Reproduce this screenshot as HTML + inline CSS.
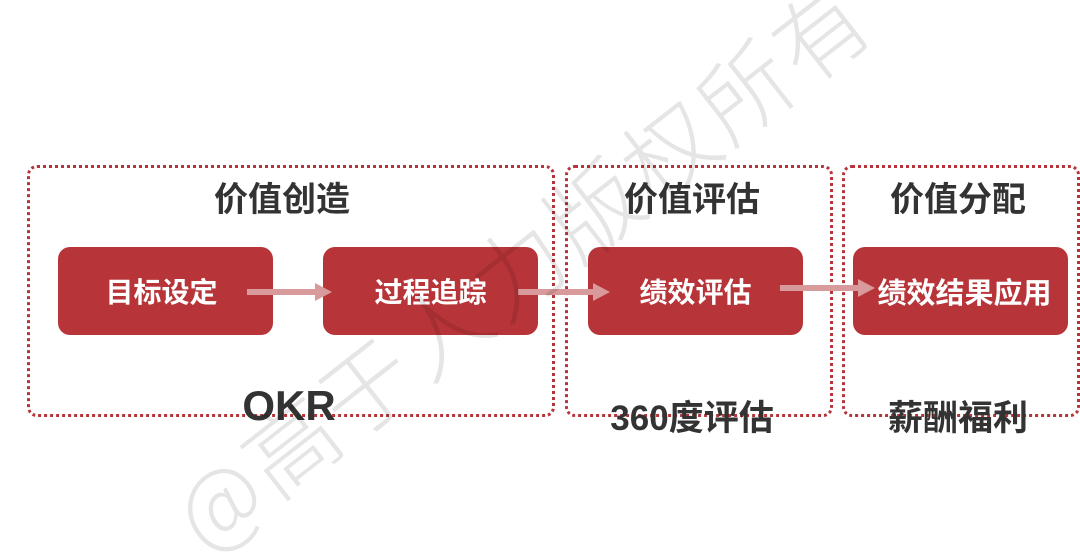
<!DOCTYPE html>
<html style="overflow:hidden"><head><meta charset="utf-8"><style>
html,body{margin:0;width:1080px;height:552px;overflow:hidden;}
body{background:#fff;position:relative;font-family:"Liberation Sans","Noto Sans CJK SC",sans-serif;}
.clip{position:absolute;left:0;top:0;width:1080px;height:552px;overflow:hidden;}
.grp{position:absolute;border:3px dotted #b5353a;border-radius:10px;box-sizing:border-box;}
.t{position:absolute;font-weight:bold;color:#333;text-align:center;white-space:nowrap;}
.n{position:absolute;top:247px;width:215px;height:88px;background:#b73438;border-radius:12px;color:#fff;font-weight:bold;font-size:28px;display:flex;align-items:center;justify-content:center;}
.wm{position:absolute;left:92px;top:195px;font-size:92px;color:rgba(0,0,0,0.1);transform:rotate(-38deg);transform-origin:center;white-space:nowrap;font-family:"Noto Sans CJK SC",sans-serif;font-weight:300;letter-spacing:4px;}
</style></head><body>
<div class="clip">
<div class="grp" style="left:27px;top:165px;width:528px;height:252px"></div>
<div class="grp" style="left:565px;top:165px;width:268px;height:252px"></div>
<div class="grp" style="left:842px;top:165px;width:238px;height:252px"></div>
<div class="t" style="left:182px;width:200px;top:172px;font-size:34px">价值创造</div>
<div class="t" style="left:592px;width:200px;top:172px;font-size:34px">价值评估</div>
<div class="t" style="left:858px;width:200px;top:172px;font-size:34px">价值分配</div>
<div class="n" style="left:58px;padding-right:8px;box-sizing:border-box">目标设定</div>
<div class="n" style="left:323px">过程追踪</div>
<div class="n" style="left:588px">绩效评估</div>
<div class="n" style="left:853px;font-size:29px;padding-left:8px;box-sizing:border-box">绩效结果应用</div>
<svg style="position:absolute;left:0;top:0" width="1080" height="552">
<g fill="#d99a9b" stroke="none">
<rect x="247" y="289" width="70" height="6"/><polygon points="315,283 332,292 315,301"/>
<rect x="518" y="289" width="77" height="6"/><polygon points="593,283 610,292 593,301"/>
<rect x="780" y="285" width="80" height="6"/><polygon points="858,279 875,288 858,297"/>
</g></svg>
<div class="t" style="left:189px;width:200px;top:382px;font-size:42px">OKR</div>
<div class="t" style="left:592px;width:200px;top:390px;font-size:35px">360度评估</div>
<div class="t" style="left:858px;width:200px;top:390px;font-size:35px">薪酬福利</div>
<div class="wm">@高于人力版权所有</div>
</div>
</body></html>
